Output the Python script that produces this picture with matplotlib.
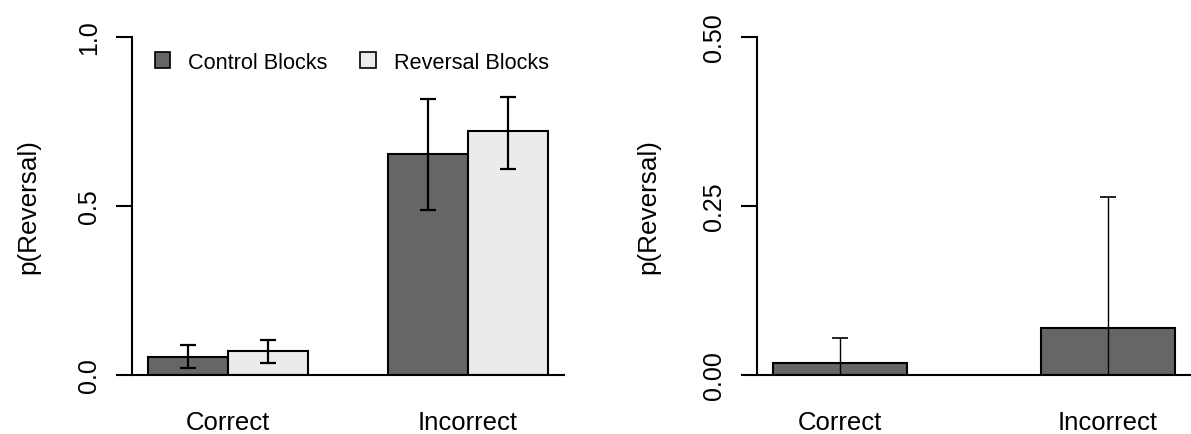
import matplotlib
matplotlib.use("Agg")
import matplotlib.pyplot as plt
from matplotlib.patches import Patch
import numpy as np

plt.rcParams['font.family'] = ['Liberation Sans', 'DejaVu Sans']

# left panel: control vs reversal blocks
groups = ['Correct', 'Incorrect']
series_names = ['Control Blocks', 'Reversal Blocks']
control_vals = [0.054, 0.653]
control_lo = [0.020, 0.487]
control_hi = [0.088, 0.816]
reversal_vals = [0.072, 0.722]
reversal_lo = [0.036, 0.608]
reversal_hi = [0.105, 0.822]
left_ticks = [0.0, 0.5, 1.0]
left_ticklabels = ['0.0', '0.5', '1.0']

# right panel: single series
right_vals = [0.0173, 0.070]
right_err = [0.038, 0.193]
right_ticks = [0.0, 0.25, 0.5]
right_ticklabels = ['0.00', '0.25', '0.50']

dark = '#666666'
light = '#ebebeb'

W, H = 1191, 435
fig = plt.figure(figsize=(W / 100, H / 100), dpi=100)

def px_axes(x0, x1, y_top, y_bot):
    return fig.add_axes([x0 / W, (H - y_bot) / H, (x1 - x0) / W, (y_bot - y_top) / H])

def style_axis(ax, ticks, labels, lw, lpad):
    for s in ['top', 'right']:
        ax.spines[s].set_visible(False)
    ax.spines['left'].set_linewidth(lw)
    ax.spines['bottom'].set_linewidth(lw)
    ax.spines['left'].set_bounds(ticks[0], ticks[-1])
    ax.set_yticks(ticks)
    ax.set_yticklabels(labels, rotation=90, va='center', fontsize=18)
    ax.tick_params(axis='y', length=11.5, width=lw, pad=11)
    ax.tick_params(axis='x', length=0, pad=25, labelsize=18.5)
    ax.set_ylabel('p(Reversal)', fontsize=18.8, labelpad=lpad)

# Left plot
ax = px_axes(132, 564, 38, 376)
x_ctrl = np.array([1.5, 4.5])
x_rev = x_ctrl + 1
ax.bar(x_ctrl, control_vals, width=1, color=dark, edgecolor='black', linewidth=1.5)
ax.bar(x_rev, reversal_vals, width=1, color=light, edgecolor='black', linewidth=1.5)
ax.errorbar(x_ctrl, control_vals,
            yerr=[np.array(control_vals) - control_lo, np.array(control_hi) - control_vals],
            fmt='none', ecolor='black', elinewidth=1.6, capsize=6, capthick=1.6)
ax.errorbar(x_rev, reversal_vals,
            yerr=[np.array(reversal_vals) - reversal_lo, np.array(reversal_hi) - reversal_vals],
            fmt='none', ecolor='black', elinewidth=1.6, capsize=6, capthick=1.6)
ax.set_xlim(0.8, 6.2)
ax.set_ylim(0, 1)
ax.set_xticks([2, 5])
ax.set_xticklabels(groups)
style_axis(ax, left_ticks, left_ticklabels, 1.5, 26)

handles = [Patch(facecolor=dark, edgecolor='black', linewidth=1.2),
           Patch(facecolor=light, edgecolor='black', linewidth=1.2)]
ax.legend(handles, series_names, loc='center left', bbox_to_anchor=(0.053, 0.926),
          ncol=2, frameon=False, fontsize=15.6, borderpad=0, borderaxespad=0,
          handlelength=0.7, handleheight=0.7, handletextpad=0.85, columnspacing=1.5)

# Right plot
ax2 = px_axes(757, 1191, 38, 376)
x_r = np.array([1.5, 3.5])
ax2.bar(x_r, right_vals, width=1, color=dark, edgecolor='black', linewidth=1.5)
ax2.errorbar(x_r, right_vals, yerr=right_err, fmt='none', ecolor='black',
             elinewidth=1.0, capsize=6, capthick=1.2)
ax2.set_xlim(0.88, 4.12)
ax2.set_ylim(0, 0.5)
ax2.set_xticks(x_r)
ax2.set_xticklabels(groups)
style_axis(ax2, right_ticks, right_ticklabels, 1.5, 30)

fig.savefig('out.png', dpi=100)
